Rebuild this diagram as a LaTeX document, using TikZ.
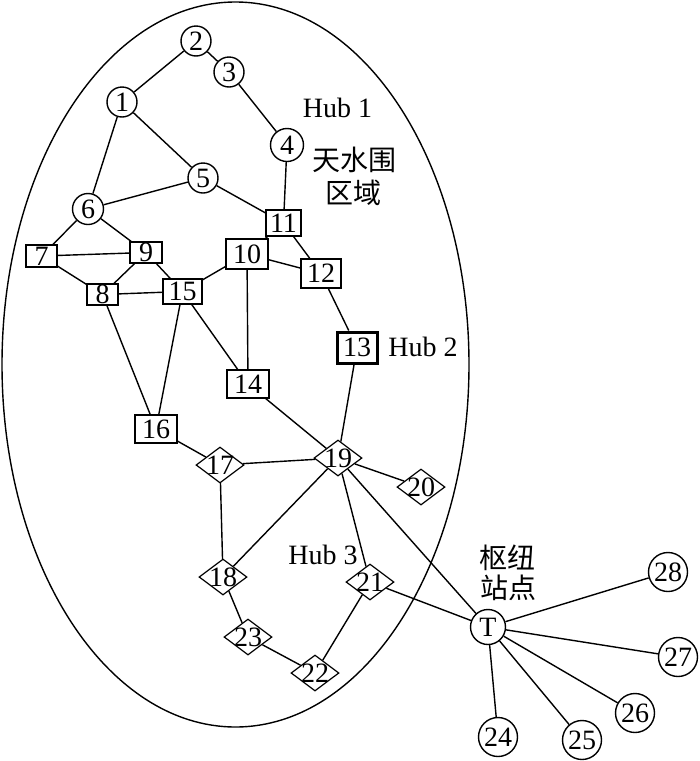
\documentclass[tikz,border=0pt]{standalone}
\usepackage{fontspec}
\setmainfont{Liberation Serif}
\newfontfamily\cjk{Noto Sans CJK SC}
\usetikzlibrary{shapes.geometric}
\begin{document}
\begin{tikzpicture}[x=1pt,y=-1pt,
  every node/.style={font=\fontsize{28}{30}\selectfont},
  cnode/.style={draw,circle,line width=1.4pt,inner sep=0pt,minimum size=30pt},
  cbig/.style={cnode,minimum size=39pt},
  bnode/.style={draw,rectangle,line width=1.2pt,inner sep=0pt},
  dnode/.style={draw,diamond,line width=1.2pt,inner sep=-5pt,aspect=1.33,minimum width=48pt,minimum height=36pt},
  lbl/.style={font=\fontsize{28}{30}\selectfont},
  cjklbl/.style={font=\cjk\fontsize{28}{30}\selectfont},
  edge/.style={line width=1.4pt}]
\useasboundingbox (0,0) rectangle (700,761);
\draw[line width=1.4pt] (235.5,364.5) ellipse [x radius=233.5, y radius=362.5];
% circles
\node[cnode] (n2) at (196,41) {2};
\node[cnode] (n3) at (229,72) {3};
\node[cnode] (n1) at (122,102) {1};
\node[cnode,minimum size=33pt] (n4) at (287,145) {4};
\node[cnode] (n5) at (203,178) {5};
\node[cnode,minimum size=31pt] (n6) at (88,209) {6};
% boxes
\node[bnode,minimum width=31pt,minimum height=22pt] (n7) at (41.5,256) {7};
\node[bnode,minimum width=32pt,minimum height=21pt] (n9) at (146,252.5) {9};
\node[bnode,minimum width=42pt,minimum height=30pt] (n10) at (247,254) {10};
\node[bnode,minimum width=35pt,minimum height=26pt] (n11) at (283.5,223) {11};
\node[bnode,minimum width=40pt,minimum height=29pt] (n12) at (321,273.5) {12};
\node[bnode,minimum width=31pt,minimum height=21pt] (n8) at (102.5,294.5) {8};
\node[bnode,minimum width=39pt,minimum height=25pt] (n15) at (182.5,291.5) {15};
\node[bnode,line width=3pt,minimum width=40pt,minimum height=31pt] (n13) at (357,347.5) {13};
\node[bnode,minimum width=42pt,minimum height=28pt] (n14) at (248,384) {14};
\node[bnode,minimum width=42pt,minimum height=28pt] (n16) at (156,429) {16};
% diamonds
\node[dnode] (n17) at (220,465) {17};
\node[dnode] (n19) at (338,458) {19};
\node[dnode] (n20) at (421,487) {20};
\node[dnode] (n18) at (223,577) {18};
\node[dnode] (n21) at (370,582) {21};
\node[dnode] (n23) at (248,637) {23};
\node[dnode] (n22) at (315,673) {22};
% outside
\node[cnode,minimum size=35pt] (T) at (488,627) {T};
\node[cbig] (n28) at (668,572) {28};
\node[cbig] (n27) at (678,657) {27};
\node[cbig] (n26) at (635,713) {26};
\node[cbig] (n25) at (582,740) {25};
\node[cbig] (n24) at (498,737) {24};
% labels
\node[lbl] (h1) at (337.5,108) {Hub 1};
\node[lbl] (h2) at (423,347) {Hub 2};
\node[lbl] (h3) at (323,555) {Hub 3};
\node[cjklbl] (c1) at (354,160) {天水围};
\node[cjklbl] (c2) at (353,193) {区域};
\node[cjklbl] (c3) at (507,558) {枢纽};
\node[cjklbl] (c4) at (508,588) {站点};
% edges
\draw[edge] (n2)--(n1) (n2)--(n3) (n3)--(n4) (n1)--(n6) (n1)--(n5)
  (n5)--(n6) (n5)--(n11) (n4)--(n11) (n6)--(n7) (n6)--(n9) (n7)--(n9)
  (n7)--(n8) (n9)--(n8) (n9)--(n15) (n8)--(n15) (n15)--(n10) (n10)--(n11)
  (n10)--(n12) (n11)--(n12) (n10)--(n14) (n15)--(n14) (n15)--(n16)
  (n8)--(n16) (n12)--(n13) (n13)--(n19) (n14)--(n19) (n16)--(n17)
  (n17)--(n19) (n17)--(n18) (n19)--(n18) (n19)--(n20) (n19)--(n21)
  (n19)--(T) (n18)--(n23) (n23)--(n22) (n22)--(n21) (n21)--(T)
  (T)--(n28) (T)--(n27) (T)--(n26) (T)--(n25) (T)--(n24);
\end{tikzpicture}
\end{document}
